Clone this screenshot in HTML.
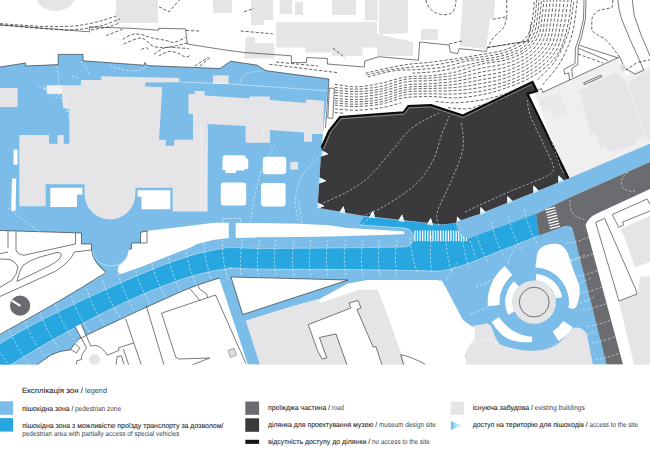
<!DOCTYPE html>
<html lang="uk">
<head>
<meta charset="utf-8">
<title>Експлікація зон / legend</title>
<style>
html,body{margin:0;padding:0;background:#fff;}
body{width:650px;height:467px;overflow:hidden;position:relative;font-family:"Liberation Sans",sans-serif;}
svg{position:absolute;left:0;top:0;display:block;}
.lb{fill:#7bbde8;}
.mb{fill:#27a6df;}
.g{fill:#e5e5e7;}
.vg{fill:#efeff0;}
.w{fill:#fff;}
.site{fill:#3a3a3c;}
.road{fill:#6b6c6f;}
.ln{fill:none;stroke:#222;stroke-width:.6;}
.ds{fill:none;stroke:#222;stroke-width:.7;stroke-dasharray:3.2 1.8;}
.wd{fill:none;stroke:#fff;stroke-width:.6;stroke-dasharray:2.4 1.8;opacity:.9;}
.wl{fill:none;stroke:#fff;stroke-width:.5;}
text{font-family:"Liberation Sans",sans-serif;fill:#3c3c3e;text-rendering:geometricPrecision;}
.uk{font-size:7.2px;fill:#2b2b2d;stroke:#2b2b2d;stroke-width:.1px;}
.en{font-size:7.2px;fill:#444446;}
.t{font-size:7.6px;}
</style>
</head>
<body>
<svg width="650" height="467" viewBox="0 0 650 467">
<rect width="650" height="467" fill="#fff"/>

<!-- ===== top light grey buildings ===== -->
<g class="g" id="topbld">
<ellipse cx="55.5" cy="-9" rx="21.5" ry="20"/>
<rect x="116" y="0" width="42" height="23"/>
<rect x="213" y="0" width="19" height="13"/>
<path d="M251,0H273V20H264V25H251Z"/>
<rect x="295" y="2" width="8" height="13"/>
<rect x="332" y="0" width="24" height="15"/>
<rect x="365" y="0" width="12.6" height="20.5"/>
<path d="M276.2,22H377V47.4H362.4V55.8H332V52.5H305V47.4H276.2Z"/><path d="M377,34L413,42V56H377Z"/>
<path d="M246,37H255V43H274.3V58.4H244.2Z"/>
<path d="M379,0H408V33L379,34.5Z"/><rect x="279.6" y="0" width="12.4" height="14"/>
<path d="M400,0H419V29H417V60H400Z" opacity=".0"/>
<rect x="421" y="29" width="17" height="11"/>
<path d="M463,0H495L494,18L490,19L486,49L459.5,46Z"/>
</g>

<!-- ===== right building cluster ===== -->
<path class="vg" d="M534,93L544,91L618,58L626,75L650,66V143L568,180Z"/>
<g class="g">
<path d="M539,99L560,93L568,115L554,120L549,109L544,111Z" fill="#e9e9ea"/>
<path d="M579,91L616,72L626,82L644,136L635,140L636,144L610,152L605,146L600,148L595,133L591,135Z"/>
<path d="M628,82L650,70V140L645,136Z"/>
</g>

<!-- ===== light blue zones ===== -->
<g class="lb">
<!-- upper plaza + band under the site + right band -->
<path d="M0,67L25.4,63V66L58.2,64.6V54.4H83V60.8L143.8,65.2L145,62.5L147,65.6L200,67.7L220,68.5L230.5,61.3L257,65.1L266,70.7L329,79L323,134L321.5,148L317.5,207.7L361.5,215.4L441.5,224.6L457,223L568.5,178.5L650,143.5V162L568.6,198L536,214L539,235L568.5,225L573,231L607,364.5H460L438,280L368,280L347,284L320,299L290,307L246,320.8L260.2,364.5H247.8L219.4,278.6C219.0,278.3 220.6,277.7 216.8,278.9C213.0,280.1 203.5,283.0 196.8,285.4C190.1,287.8 183.5,290.6 176.8,293.5C170.1,296.4 163.5,299.5 156.8,302.5C150.1,305.5 143.5,308.5 136.8,311.6C130.1,314.7 123.5,317.8 116.8,320.9C110.1,324.0 103.5,327.1 96.8,330.3C90.1,333.5 83.5,336.7 76.8,340.2C70.1,343.7 63.5,347.3 56.8,351.4C50.1,355.5 40.1,362.6 36.8,364.9L0,364.7V334.5C3.3,332.3 13.3,326.9 20.0,323.2C26.7,319.5 33.3,315.8 40.0,312.0C46.7,308.2 53.3,304.3 60.0,300.4C66.7,296.5 73.3,292.5 80.0,288.5C86.7,284.5 95.7,278.8 100.0,276.2C104.3,273.6 104.7,273.3 105.6,272.7Q93,262 91.5,250V244H81.5V233L0,230.5Z"/>
</g>

<!-- white cut-outs inside blue -->
<g class="w">
<!-- wedge W2 -->
<path d="M117.7,271.7L120.3,274.3L144.3,265.7L161.4,258.8L178.5,252L190,247.7L197.1,244.1L214.3,239.8L228.8,238.1V222.7H214.3L180,227L147.7,230.8L140.6,232.3V243H131.4V249L128.8,249A18,18 0 0 1 118.5,265.3Z"/>
<path d="M235.7,238.1L260,237.3L300,237L340,236.2L403.4,234.3L404.8,232.8L403.4,231.3L347.8,227.9L328.5,225.3L300,223.8L260,223H235.7Z"/>
<!-- white area south of strip, middle -->
<path d="M320,299L347,284L368,280L410.5,280.7L415,286.5L418.5,285L415.5,280.7L441.6,280.4L445.4,286.8L463,320L469,324.6L475,328L476,339L469,347L465,356L469,365H405.5L378,289.6H360L320,303Z"/>
<!-- white triangle -->
<path d="M231,277L348,280L242.7,314.5Z"/>
<!-- pavilions -->
<path d="M225,155.2H244Q246,155.5 246.2,158.5L248.2,159V169H244.5V170.5H236V172.9H225.5V170H222.5V158Q222.8,155.4 225,155.2Z"/>
<rect x="262.8" y="156.8" width="23.4" height="17.4" rx="3"/>
<rect x="220.8" y="182.6" width="25.4" height="22.8" rx="3"/>
<rect x="261" y="183" width="24.6" height="23.4" rx="3"/>
</g>

<!-- ===== medium blue strip ===== -->
<g class="mb">
<path d="M0,343.7C3.3,341.8 13.3,335.5 20.0,331.7C26.7,327.9 33.3,324.4 40.0,320.9C46.7,317.4 53.3,314.1 60.0,310.8C66.7,307.5 73.3,304.4 80.0,301.3C86.7,298.2 93.3,295.1 100.0,292.1C106.7,289.1 113.3,286.1 120.0,283.1C126.7,280.2 133.3,277.2 140.0,274.4C146.7,271.6 153.3,268.9 160.0,266.3C166.7,263.7 173.3,261.2 180.0,259.0C186.7,256.8 193.3,254.7 200.0,253.0C206.7,251.3 214.8,249.8 220.0,248.9C225.2,248.0 224.7,247.7 231.4,247.6C238.1,247.5 243.6,248.3 260.0,248.4C276.4,248.5 305.8,248.2 330.0,248.0C354.2,247.8 392.6,247.2 405.1,247.0A9.5,9.5 0 0 0 405.1,228.1L358.8,224.7L364,216.8L441.5,225L456,223.4L458,229L462.8,234.8L468.5,238.5L536,214L539,235.4C528.0,239.8 488.9,255.7 473.0,261.5C457.1,267.3 453.0,268.9 443.4,270.4C433.8,271.9 430.8,270.6 415.4,270.5C400.0,270.4 376.9,269.8 351.0,269.5C325.1,269.2 279.9,269.3 260.0,269.0C240.1,268.7 236.3,268.1 231.4,267.9C226.5,267.7 233.8,267.4 230.3,268.0C226.8,268.6 217.0,270.1 210.3,271.5C203.6,272.9 197.0,274.7 190.3,276.6C183.6,278.6 177.0,280.8 170.3,283.2C163.6,285.6 157.0,288.2 150.3,291.0C143.6,293.8 137.0,296.7 130.3,299.7C123.6,302.7 117.0,305.9 110.3,309.2C103.6,312.5 97.0,315.8 90.3,319.3C83.6,322.8 77.0,326.4 70.3,330.0C63.6,333.6 57.0,337.3 50.3,341.1C43.6,344.9 37.0,348.8 30.3,352.8C23.6,356.8 13.6,363.1 10.3,365.1L0,364.7Z"/>

</g>

<!-- ===== grey buildings inside blue ===== -->
<g class="g">
<rect x="0" y="88" width="17.6" height="19"/>
<rect x="213" y="75.4" width="15.6" height="8.6"/>
<rect x="290.4" y="162" width="7.6" height="7.6"/>
<!-- main building + wing -->
<path d="M80.9,80H101.8L100.5,76.3L179.2,78V82.2L145.4,82.6V86.5L162.3,87.3L159,139.7H165.8V145.8H174.3V139.7H193V114H188.5V94H194.7V91H204.6V95.5L249.6,98.6V96.4H270V100L305.8,103V99.5L324,100.7L323,134H312V141.8H304V132.5L270,130V142.7H245.6V126L207.6,124V211.4H172.6V187.7H135.4V194A25.4,25.4 0 0 1 84.6,194V184.3H45.7V206.3H19.3V135H49V143.7H57.5V135H63.7V143.7H69.4L69.2,109L63,108L62,93.7H46.8V85.3H80.9Z"/>
<!-- bottom middle building -->
<path d="M246,320.8L290,307L318,299L320,303L360,289.6H378L405.5,365H260.2Z"/>
<!-- bottom right building -->
<path d="M466,365V352.5L470.4,344Q476,338 475.7,334.3Q475,329 472.5,325.7L487.5,323.6Q491,325 491.8,327.4L495,336.4L499.3,344Q505,347 513.4,348.4Q524,351 534.2,350.7Q545,350 553.9,346.4Q563,341 568.4,331.9L571.2,329Q576,326.5 580,328Q585,330 587,334.8L593,365Z"/>
</g>
<!-- courtyards in main building -->
<g class="w">
<path d="M50.3,187.7H82.4V194.6H77V207H50.3Z"/>
<path d="M137.6,190.3H170.3V209.2H141.4V196.7H137.6Z"/>
<rect x="13.5" y="149.6" width="4" height="15"/>
<path d="M12,178.5H16.2L15.6,210.7H11.2Z"/>
<path d="M308.3,324.6L350.8,308L349,303L358,300.5L361,308L357,309.5L373,346.8H376L382,365H347L336,333.9L319.4,337.5L326.8,357.9L322,359L317.5,350.5Z"/>
</g>
<path class="g" d="M319.4,337.5L336,333.9L347,365H329Z"/>

<!-- ===== museum site ===== -->
<path class="site" d="M321.5,147.7L329,131L340,117L403.5,112.3L408.3,106L431,105.2L463,115.6L532.5,82L537,91L527.5,93.8L568.5,178.5L457,223L441.5,224.6L361.5,215.4L317.5,207.7Z"/>
<path d="M321.5,147.7L329,131L340,117L403.5,112.3L408.3,106L431,105.2L463,115.6L532.5,82L537,91L527.5,93.8L568.5,178.5" fill="none" stroke="#0c0c0c" stroke-width="2.2" stroke-linejoin="miter"/>

<path d="M323.8,149L330.6,132.2L341,118.8L404.2,114.2L409,107.8L430.8,107L463,117.4L531.6,84.3" fill="none" stroke="#fff" stroke-width=".45" opacity=".85"/>
<path class="wd" d="M323.5,202.9C327.7,200.9 341.2,195.4 349.0,190.9C356.7,186.4 362.9,182.4 369.9,175.9C376.9,169.4 383.9,159.9 390.9,151.9C397.9,143.9 403.9,134.5 411.9,128.0C419.9,121.5 434.3,115.5 438.8,113.0M365.4,214.9C368.7,213.4 376.7,210.9 384.9,205.9C393.1,200.9 406.9,192.4 414.9,184.9C422.9,177.4 428.4,169.4 432.8,160.9C437.3,152.4 439.1,141.4 441.8,134.0C444.6,126.5 448.1,119.0 449.3,116.0M438.8,225.3C438.6,223.1 435.3,219.1 437.3,211.9C439.3,204.6 446.6,192.4 450.8,181.9C455.1,171.4 461.1,158.9 462.8,148.9C464.6,138.9 461.6,126.5 461.3,122.0M465.0,212.0C467.6,210.8 473.1,208.1 480.8,204.6C488.6,201.1 500.8,195.4 511.5,190.8C522.2,186.2 538.2,180.1 545.0,177.0C551.8,173.9 550.7,174.0 552.0,172.0C553.3,170.0 554.6,170.1 553.0,165.0C551.4,159.9 546.1,149.8 542.3,141.5C538.5,133.2 532.5,121.9 530.0,115.0C527.5,108.1 527.9,102.5 527.5,100.0M540.0,112.0C542.4,118.3 551.1,140.7 554.6,150.0C558.1,159.3 559.3,164.0 561.0,168.0C562.7,172.0 564.3,173.0 565.0,174.0"/>
<path d="M345.6,213.7L343.5,206.2L339.1,212.6ZM375.4,218.2L373.0,210.8L368.9,217.4ZM404.5,221.9L402.1,214.5L398.0,221.1ZM433.2,225.4L430.8,218.0L426.7,224.6ZM462.7,221.9L457.0,216.6L456.6,224.4ZM486.2,212.4L480.5,207.1L480.1,214.9ZM513.2,201.4L507.5,196.1L507.1,203.9ZM539.2,190.9L533.5,185.6L533.1,193.4ZM564.2,180.7L558.5,175.4L558.1,183.2ZM321.0,156.7L328.3,153.9L321.4,150.1ZM318.9,183.7L326.2,180.9L319.3,177.1ZM317.1,208.8L324.4,206.0L317.5,202.2Z" fill="#c9ecf6"/><path d="M344.9,211.3L343.5,206.2L340.5,210.6ZM374.6,215.8L373.0,210.8L370.2,215.3ZM403.7,219.5L402.1,214.5L399.3,219.0ZM432.4,223.0L430.8,218.0L428.0,222.5ZM460.9,220.2L457.0,216.6L456.8,221.9ZM484.4,210.7L480.5,207.1L480.3,212.4ZM511.4,199.7L507.5,196.1L507.3,201.4ZM537.4,189.2L533.5,185.6L533.3,190.9ZM562.4,179.0L558.5,175.4L558.3,180.7ZM323.3,155.8L328.3,153.9L323.6,151.3ZM321.2,182.8L326.2,180.9L321.5,178.3ZM319.4,207.9L324.4,206.0L319.7,203.4Z" fill="#fff"/>
<!-- strip details -->
<path class="wl" d="M0.0,343.8C3.3,341.8 13.3,335.5 20.0,331.7C26.7,327.9 33.3,324.4 40.0,320.9C46.7,317.4 53.3,314.1 60.0,310.8C66.7,307.5 73.3,304.4 80.0,301.3C86.7,298.2 93.3,295.1 100.0,292.1C106.7,289.1 113.3,286.1 120.0,283.1C126.7,280.2 133.3,277.2 140.0,274.4C146.7,271.6 153.3,268.9 160.0,266.3C166.7,263.7 173.3,261.2 180.0,259.0C186.7,256.8 193.3,254.7 200.0,253.0C206.7,251.3 214.8,249.8 220.0,248.9C225.2,248.0 224.7,247.7 231.4,247.6C238.1,247.5 243.6,248.3 260.0,248.4C276.4,248.5 305.8,248.2 330.0,248.0C354.2,247.8 392.6,247.2 405.1,247.0M10.3,365.1C13.6,363.1 23.6,356.8 30.3,352.8C37.0,348.8 43.6,344.9 50.3,341.1C57.0,337.3 63.6,333.6 70.3,330.0C77.0,326.4 83.6,322.8 90.3,319.3C97.0,315.8 103.6,312.5 110.3,309.2C117.0,305.9 123.6,302.7 130.3,299.7C137.0,296.7 143.6,293.8 150.3,291.0C157.0,288.2 163.6,285.6 170.3,283.2C177.0,280.8 183.6,278.6 190.3,276.6C197.0,274.7 203.6,272.9 210.3,271.5C217.0,270.1 226.8,268.6 230.3,268.0C233.8,267.4 226.5,267.7 231.4,267.9C236.3,268.1 240.1,268.7 260.0,269.0C279.9,269.3 325.1,269.2 351.0,269.5C376.9,269.8 400.0,270.4 415.4,270.5C430.8,270.6 433.8,271.9 443.4,270.4C453.0,268.9 457.1,267.3 473.0,261.5C488.9,255.7 528.0,239.8 539.0,235.4" opacity=".8"/>
<path class="wd" d="M-5.9,339.0Q1.3,356.8 15.5,374.0M9.3,329.7Q16.3,347.7 30.3,364.9M24.7,320.8Q31.2,339.0 44.8,356.6M40.0,312.4Q46.2,330.6 59.5,348.5M55.3,304.3Q61.2,322.7 74.1,340.8M71.5,296.1Q77.1,314.5 89.9,332.7M86.7,288.6Q92.1,307.1 104.6,325.5M102.9,280.8Q108.1,299.4 120.3,317.9M118.1,273.8Q123.1,292.4 135.1,311.1M134.6,266.6Q139.1,285.3 150.6,304.4M151.1,259.9Q155.0,278.7 166.0,298.0M167.7,253.6Q171.0,272.6 181.2,292.4M185.7,247.8Q187.9,267.0 197.2,287.2M203.9,243.2Q204.9,262.4 212.8,283.2M222.3,239.8Q221.8,259.1 228.1,280.4M242.6,239.1Q238.8,258.0 241.4,277.1M259.4,239.7Q255.8,258.6 258.6,277.7M276.0,239.7Q272.8,258.7 276.0,277.7M294.0,239.7Q290.8,258.7 294.0,277.7M311.0,239.7Q307.8,258.7 311.0,277.7M328.0,239.7Q324.8,258.7 328.0,277.7M345.9,239.6Q342.8,258.6 346.1,277.6M363.0,239.6Q359.8,258.6 363.0,277.6M380.0,239.6Q376.8,258.6 380.0,277.6M397.0,239.7Q393.8,258.7 397.0,277.7M409.9,237.0Q410.9,256.3 418.1,274.1M431.7,236.0Q428.8,255.0 432.3,274.0M445.9,235.1Q445.8,254.4 452.1,272.6M462.3,232.4Q462.9,251.7 469.7,269.7M475.3,228.0Q479.0,246.9 488.7,263.5M491.3,221.9Q495.0,240.8 504.7,257.5M508.3,215.5Q512.0,234.4 521.7,251.0M524.3,209.4Q528.0,228.3 537.7,245.0"/>
<!-- ===== road ===== -->
<path class="road" d="M536,214L568.6,198L650,162V189L597,213.5Q588,217.5 585.5,225L623,364.5H606.6L573,231Q571,225 565,226L539,235.4Z"/>
<!-- crosswalk on road -->
<g stroke="#fff" stroke-width="1.2">
<path d="M545.40,209.90l9.8,-2.6M546.06,212.58l9.8,-2.6M546.72,215.26l9.8,-2.6M547.38,217.94l9.8,-2.6M548.04,220.62l9.8,-2.6M548.70,223.30l9.8,-2.6M549.36,225.98l9.8,-2.6M550.02,228.66l9.8,-2.6"/>
</g>
<!-- crosswalk on strip -->
<g stroke="#fff" stroke-width="1.25">
<path d="M414.90,230.6v10.6M417.48,230.6v10.6M420.06,230.6v10.6M422.64,230.6v10.6M425.22,230.6v10.6M427.80,230.6v10.6M430.38,230.6v10.6M432.96,230.6v10.6M435.54,230.6v10.6M438.12,230.6v10.6M440.70,230.6v10.6M443.28,230.6v10.6M445.86,230.6v10.6M448.44,230.6v10.6M451.02,230.6v10.6M453.60,230.6v10.6M456.18,230.6v10.6M458.76,230.6v10.6M461.34,230.6v10.6M463.92,230.6v10.6M466.50,230.6v10.6"/>
</g>
<path class="lb" d="M455.5,222L457.5,229Q460,234 464,236.5L468.5,238.5L482,233.5L476,215Z"/>
<path class="wl" d="M358.8,224.7L405.1,228.1A9.5,9.5 0 0 1 405.1,247" opacity=".8"/>

<!-- ===== circle plaza ===== -->
<g>
<g class="w">
<path d="M508.1,314.8A29,29 0 0 1 514.1,281.2L519.1,286.5A21.7,21.7 0 0 0 514.7,311.6Z"/>
<path d="M536.2,273.9A28.3,28.3 0 0 1 562.1,297.2L555.6,298.3A21.7,21.7 0 0 0 535.7,280.5Z"/>
<path d="M487.9,306.2A46.5,46.5 0 0 1 504.9,266.0L512.4,275.1A34.7,34.7 0 0 0 499.6,305.1Z"/>
<path d="M572.8,327.2A46,46 0 0 1 558.6,341.1L552.6,331.5A34.7,34.7 0 0 0 563.3,321.0Z"/>
<path d="M532.4,336.8L532.1,342Q512,344 501.7,334.6Q495,328 491.6,322L498.8,317.1Q505,326 513.8,331.2Q522,336 532.4,336.8Z"/>
<path d="M535.4,267.4L537,255Q538,248 545,245.5Q553,242.5 561,245Q567,249 569.5,258L573,269L579.3,285.6Q581,297 576,307L573.6,309L568.4,308.1A34.7,34.7 0 0 0 535.4,267.4Z"/>
</g>
<circle cx="534.2" cy="302.1" r="21.7" class="g"/>
<circle cx="534.2" cy="302.1" r="14.9" fill="none" stroke="#222" stroke-width=".6"/>
</g>

<!-- north arrow -->
<circle cx="20.1" cy="305.7" r="10.1" fill="#6a6b6e"/>
<path d="M20.4,305.9L12,300.6" stroke="#fff" stroke-width="2.2" fill="none"/>

<!-- ===== thin lines (top area) ===== -->
<g id="toplines">
<path class="ds" d="M365.5,73.2C368.2,72.6 374.8,71.0 381.5,69.5C388.3,68.1 397.9,65.8 406.2,64.6C414.4,63.4 422.2,63.2 430.8,62.2C439.4,61.1 449.6,59.7 457.8,58.5C466.1,57.2 472.3,56.1 480.1,54.7C487.8,53.3 497.2,52.3 504.2,50.1C511.2,47.8 517.9,44.3 522.2,41.1C526.5,37.9 528.1,35.1 529.9,30.8C531.7,26.5 532.2,20.5 533.0,15.4C533.7,10.3 534.2,2.6 534.5,0.0M366.8,75.1C370.3,74.3 380.1,71.5 387.7,70.2C395.3,68.8 404.1,68.0 412.3,67.1C420.5,66.2 428.5,65.8 436.9,64.6C445.3,63.4 455.6,60.9 462.8,59.7C470.0,58.4 473.2,58.3 480.1,57.1C487.0,56.0 497.0,54.9 504.2,52.6C511.4,50.4 518.8,47.2 523.5,43.7C528.1,40.1 530.2,36.2 532.2,31.5C534.2,26.8 534.5,20.7 535.3,15.4C536.0,10.2 536.5,2.6 536.7,0.0M368.0,76.9C372.3,75.9 385.4,72.0 393.8,70.8C402.3,69.5 410.3,70.2 418.5,69.5C426.7,68.9 434.9,68.5 443.1,67.1C451.3,65.6 461.5,62.2 467.7,60.9C473.9,59.7 474.0,60.5 480.1,59.6C486.1,58.6 496.8,57.4 504.2,55.2C511.6,53.0 519.7,50.1 524.7,46.2C529.8,42.4 532.4,37.2 534.5,32.1C536.6,27.0 536.9,20.8 537.6,15.4C538.3,10.1 538.7,2.6 538.9,0.0M412.3,73.2C416.4,72.9 428.7,72.5 436.9,71.4C445.1,70.3 454.3,68.0 461.5,66.5C468.7,64.9 472.7,63.5 480.1,62.0C487.4,60.5 497.8,59.7 505.5,57.4C513.1,55.1 520.8,52.2 526.0,48.2C531.2,44.1 534.4,38.8 536.7,33.4C539.0,27.9 539.1,21.0 539.9,15.4C540.7,9.8 541.2,2.6 541.4,0.0M334.8,84.3C338.5,84.7 349.1,87.0 356.9,86.8C364.7,86.6 373.3,84.7 381.5,83.1C389.7,81.4 397.9,78.2 406.2,76.9C414.4,75.7 422.6,76.5 430.8,75.7C439.0,74.9 447.2,73.9 455.4,72.0C463.6,70.1 471.5,66.5 480.1,64.5C488.6,62.4 498.9,62.0 506.8,59.6C514.6,57.2 522.0,54.2 527.3,50.1C532.7,45.9 536.4,40.4 538.9,34.7C541.4,28.9 541.4,21.2 542.2,15.4C543.1,9.6 543.7,2.6 544.0,0.0M334.8,87.4C338.5,87.7 349.1,89.3 356.9,89.1C364.7,88.9 373.3,87.8 381.5,86.2C389.7,84.5 397.9,80.6 406.2,79.2C414.4,77.9 422.6,78.7 430.8,78.0C439.0,77.3 447.2,76.7 455.4,75.1C463.6,73.5 471.5,70.4 480.1,68.5C488.6,66.5 498.6,65.9 506.8,63.3C514.9,60.7 523.2,57.2 528.9,52.8C534.7,48.4 538.6,43.0 541.3,37.1C543.9,31.1 543.9,23.2 544.9,17.0C545.9,10.8 546.8,2.8 547.2,0.0M334.8,90.2C338.5,90.4 349.1,91.7 356.9,91.5C364.7,91.3 373.3,90.5 381.5,88.9C389.7,87.3 397.9,83.2 406.2,81.8C414.4,80.5 422.6,81.2 430.8,80.6C439.0,80.0 447.2,79.5 455.4,78.2C463.6,76.8 471.5,74.3 480.1,72.4C488.6,70.6 498.4,69.7 506.8,67.0C515.1,64.2 524.1,60.3 530.2,55.7C536.4,51.1 540.7,45.7 543.7,39.5C546.6,33.2 546.7,24.9 547.9,18.3C549.0,11.7 550.0,3.0 550.4,0.0M334.8,92.5C338.5,92.7 349.1,94.3 356.9,94.1C364.7,93.9 373.3,92.8 381.5,91.2C389.7,89.7 397.9,86.2 406.2,84.9C414.4,83.7 422.6,84.3 430.8,83.7C439.0,83.1 447.2,82.5 455.4,81.2C463.6,80.0 471.5,78.0 480.1,76.3C488.6,74.5 498.3,73.5 506.8,70.7C515.3,67.8 524.5,63.7 531.0,58.9C537.6,54.1 542.7,48.5 546.1,41.9C549.4,35.3 549.8,26.1 551.1,19.1C552.3,12.1 553.2,3.2 553.6,0.0M334.8,95.4C338.5,95.6 349.1,97.1 356.9,96.9C364.7,96.6 373.3,95.5 381.5,93.9C389.7,92.3 397.9,88.7 406.2,87.4C414.4,86.1 422.6,86.7 430.8,86.2C439.0,85.6 447.2,85.3 455.4,84.3C463.6,83.3 471.5,81.7 480.1,80.0C488.6,78.3 498.1,77.2 506.8,74.2C515.4,71.2 524.9,67.1 531.8,62.1C538.8,57.2 544.8,51.2 548.5,44.3C552.2,37.4 552.9,27.9 554.3,20.5C555.7,13.2 556.4,3.4 556.8,0.0M334.8,98.3C338.5,98.5 349.1,99.8 356.9,99.5C364.7,99.3 373.3,98.3 381.5,96.6C389.7,95.0 397.9,91.0 406.2,89.7C414.4,88.3 422.6,88.9 430.8,88.5C439.0,88.1 447.2,88.2 455.4,87.4C463.6,86.6 471.5,85.3 480.1,83.7C488.6,82.1 498.0,80.8 506.8,77.7C515.5,74.7 525.3,70.5 532.6,65.4C540.0,60.2 546.8,53.9 550.9,46.7C555.1,39.5 555.9,29.9 557.5,22.1C559.0,14.4 559.8,3.7 560.2,0.0M334.8,100.6C338.5,100.8 349.1,102.1 356.9,101.8C364.7,101.6 373.3,100.9 381.5,99.3C389.7,97.6 397.9,93.4 406.2,92.0C414.4,90.6 422.6,91.4 430.8,91.1C439.0,90.9 447.2,91.1 455.4,90.5C463.6,89.9 471.5,89.1 480.1,87.6C488.6,86.0 497.9,84.4 506.8,81.3C515.7,78.1 525.7,73.9 533.4,68.6C541.2,63.2 548.8,56.6 553.3,49.1C557.9,41.6 558.9,31.9 560.7,23.8C562.5,15.6 563.6,4.0 564.2,0.0M334.8,102.9C338.5,103.1 349.1,104.4 356.9,104.2C364.7,103.9 373.5,103.3 381.5,101.7C389.6,100.1 397.0,96.1 405.2,94.8C413.4,93.5 422.4,94.0 430.8,93.8C439.1,93.7 447.2,94.4 455.4,94.0C463.6,93.6 471.7,92.8 480.1,91.3C488.5,89.8 496.9,88.1 505.8,84.9C514.8,81.7 525.5,77.5 533.7,72.1C542.0,66.6 550.2,59.7 555.2,52.0C560.3,44.3 561.8,34.5 563.9,25.8C566.0,17.2 567.3,4.3 568.0,0.0M334.8,105.2C338.5,105.4 349.1,106.7 356.9,106.5C364.7,106.3 373.7,105.4 381.5,104.0C389.3,102.6 395.5,99.1 403.7,97.8C411.9,96.6 422.2,96.6 430.8,96.6C439.4,96.6 447.2,98.1 455.4,97.8C463.6,97.6 471.9,96.6 480.1,95.0C488.2,93.5 495.3,91.8 504.2,88.6C513.1,85.4 525.0,81.3 533.7,75.8C542.5,70.2 551.3,63.1 556.8,55.2C562.4,47.3 564.7,37.5 567.1,28.2C569.6,19.0 570.8,4.7 571.5,0.0M334.8,108.9C338.5,109.1 349.1,110.4 356.9,110.2C364.7,109.9 374.2,108.9 381.5,107.7C388.9,106.5 397.9,103.6 401.2,102.8M435.7,101.5C439.0,101.7 448.0,103.0 455.4,102.8C462.8,102.6 472.3,101.6 480.0,100.3C487.7,99.0 494.2,97.4 501.6,95.0C509.1,92.6 520.9,87.5 524.7,86.0M334.8,112.6C336.4,112.7 343.0,113.2 344.6,113.4M448.0,107.7C451.3,107.9 462.4,109.3 467.7,108.9C473.0,108.5 476.1,106.3 480.0,105.2C483.9,104.2 486.9,103.8 491.4,102.7C495.8,101.7 504.2,99.5 506.8,98.9M542.7,84.7C545.7,80.9 555.8,70.2 560.7,61.6C565.6,53.1 569.5,43.7 572.3,33.4C575.0,23.1 576.5,5.6 577.4,0.0M537.6,79.6C540.6,76.4 550.4,68.3 555.6,60.3C560.7,52.4 565.3,42.2 568.4,32.1C571.5,22.0 573.1,5.4 574.1,0.0"/>
<path class="ln" d="M0,24.8L89.3,31.8V26.8L131,28.3L158.7,30.2V28.3L185.5,28.9L187.3,44L220,49.2L244,52.5L291.4,55.8V62.6H306.6V57.5L327.4,58.5V64L364.3,67L364.8,61L379,56.7L418.5,60.2L419.7,42L449,45L450.5,52.3L457.8,53.5L459,48.6L486.2,51.4L487.5,47.5"/>
<path class="ds" d="M0,23.6L40,26.4L70,26.4Q90,24.4 104,20L116,16M91,30L108,27L120,23"/>
<path class="ds" d="M0,25L40,28.4L66,30Q88,29.5 104,25L120,19"/>
<path class="ds" d="M122.7,39.4C124.2,38.6 128.9,35.2 132.0,34.4C135.1,33.6 138.1,33.9 141.2,34.4C144.3,34.9 146.4,36.5 150.4,37.5C154.4,38.5 161.2,39.5 165.2,40.3C169.2,41.1 171.0,42.7 174.4,42.2C177.8,41.7 183.7,38.3 185.5,37.5M123.6,44.0C125.9,43.1 134.0,39.3 137.5,38.5C141.0,37.7 142.4,38.2 144.8,39.4C147.2,40.6 149.1,44.4 152.2,45.8C155.3,47.2 159.3,47.7 163.3,47.7C167.3,47.7 172.2,46.6 176.2,45.8C180.2,45.0 185.5,43.5 187.3,43.0M141.2,49.5C142.1,49.2 145.4,47.4 146.7,47.7C148.0,48.0 148.6,50.9 149.0,51.5M154.0,54.2C155.9,53.1 161.5,48.8 165.2,47.7C168.9,46.6 172.2,47.6 176.2,47.7C180.2,47.9 187.0,48.5 189.2,48.6M158.7,56.0C160.4,55.2 165.6,51.9 168.8,51.4C172.0,50.9 175.2,52.3 178.0,53.2C180.8,54.1 183.3,56.7 185.5,57.0C187.7,57.3 190.1,55.3 191.0,55.0M106.0,35.7C108.8,34.6 119.9,30.3 122.7,29.2"/>
<path class="ds" d="M159,6.8L169,11.8L179.4,0M186,30.5L199.7,31M194.6,66L208,57.5M200,66L210,57.5M240.6,31L272.8,33.8M244,11.8L254,8.5M269.4,64.3L338.7,72.8M276,62L318,66M333,48L345,58M487.5,47.5L528.6,41L531,22M492.6,19.3L506.8,16.7L504.2,27L492.6,38.5L487.5,47.5M506.8,0V16.7M426,0Q427,8 436,13Q446,17 453,12Q456,6 456,0M449,44L462,41"/>
<path class="ln" d="M487.5,47.5L528.6,41" stroke-dasharray="3 1"/>
<!-- path / road outlines top right -->
<path class="ln" d="M584,0L583.5,19.3L579.3,36.6L575.4,48.2L575,63.6L563.9,69.4L564.8,74.2L568.7,72.8L569.6,80L542.7,92.4L541.4,88.6L537.6,90M586,0L585.4,19.3L581.6,36.6L578.3,46.3L577.7,64.6L571.6,68.4L572.5,77M569.6,80L619.7,56.9L623.6,65.5L626.5,69.4L635.2,74.2L643.8,70.3M579.3,45.3L617.8,57.8M578.3,48.2L608.2,60.7M617.8,0Q618.5,10 621.7,19.3L631.3,42.4L641,63.6L643.8,70.3M632.3,0L634.2,15.4L641,34.7L650,55.9"/>
<path class="ds" d="M613,0L612,7.7Q604,9 598.5,10.6Q593,14 591.8,19.3V30.8Q597,35 604.3,38.5Q611,45 615.9,52L619.7,56.9M625.5,70.3L637,62.6L650,59.7M578,54L603,63"/>
<path class="ln" d="M584.4,84.6L601.8,76.9L601,75.2L583.6,82.9Z"/>
<rect x="620.7" y="64.6" width="4.8" height="5.7" fill="#d9d9db" transform="rotate(-25 623 67.5)"/>
</g>

<!-- ===== outlines bottom-left ===== -->
<g id="bl">
<path class="w" d="M75.1,326.8L81.1,324L90.8,346L86.5,347.8Z"/>
<path class="ln" d="M0,230.5L81.5,233V244H91.5V250Q93,262 105.6,271.8M75.5,233V244L24,255.2M8,231V248M16,231.5V250Q17,254.5 24,255.2M0,253.8L8,252M74.4,252L91.5,250M74.4,252Q70,262 55,271.5L0,296.5"/>
<path class="ln" d="M17,281.4Q19,271 23,265.3Q30,260 40,257L56.3,252.6Q61,252 61.4,255.2Q60,260 50.3,265.3L30,275.3Z"/>
<path class="ln" d="M0,259L10,259.5Q16,262 18,267Q17,275 12,280L0,287.4"/>
<path class="ln" d="M0,334.5C3.3,332.3 13.3,326.9 20.0,323.2C26.7,319.5 33.3,315.8 40.0,312.0C46.7,308.2 53.3,304.3 60.0,300.4C66.7,296.5 73.3,292.5 80.0,288.5C86.7,284.5 95.7,278.8 100.0,276.2C104.3,273.6 104.7,273.3 105.6,272.7"/>
<path class="ln" d="M219.4,278.6C219.0,278.3 220.6,277.7 216.8,278.9C213.0,280.1 203.5,283.0 196.8,285.4C190.1,287.8 183.5,290.6 176.8,293.5C170.1,296.4 163.5,299.5 156.8,302.5C150.1,305.5 143.5,308.5 136.8,311.6C130.1,314.7 123.5,317.8 116.8,320.9C110.1,324.0 103.5,327.1 96.8,330.3C90.1,333.5 83.5,336.7 76.8,340.2C70.1,343.7 63.5,347.3 56.8,351.4C50.1,355.5 40.1,362.6 36.8,364.9"/>
<path class="wl" d="M92.6,250A18,15.7 0 0 0 128.8,250" opacity=".85"/>
<path class="ln" d="M75.1,326.8L86.5,347.8M81.1,324L90.8,346"/><path class="lb" d="M52,354.5L60,351.5L70.5,349.7L74.8,343.5L78.5,341.5L76.5,337.5L60,346L51,351.5Z"/>
<path class="ln" d="M52,354.5L60,351.5L70.5,349.7"/>
<path class="ln" d="M70.5,349.7L74.8,343.5L79.7,347.8L76.6,352.8Z" fill="#fff"/>
<circle cx="94.5" cy="359.5" r="5.5" class="g"/>
<path class="ln" d="M86.5,347.8L82.8,353.4Q81,356 81.5,359.5L76.6,360.8V364.7M90.8,346L95.7,345.4Q99,346 101.8,348.5Q105.5,351.5 107.4,355.2L119,350.3L118.5,347.8L133.8,342.9M123.4,349L129,365.7M117.2,356.5L121.5,355.8L124,364.7M117.2,356.5L116,364.7M125.6,318.5L133.8,342.9L141.3,364.7"/>
<path class="ln" d="M146.2,305.6L164.6,367M161.5,313.2L215.5,295L246,363.7M161.5,313.2L175.7,357L178.8,359L209.6,358L192,365M189.9,288.6L200.2,300.8M198.2,285.5L199.6,289L206.5,293.9L207.9,297.7"/>
<rect x="229" y="349.2" width="6.5" height="7.4" fill="#dcdcde" stroke="#555" stroke-width=".4" transform="rotate(-18 232 353)"/>
<!-- white triangle outline -->
<path class="ln" d="M231,277L348,280L242.7,314.5Z"/>
<path class="wl" d="M228.8,223.2H222.8V218.4H240.8V223.2H235.7" opacity=".85"/>
<!-- W2 notch outline -->
<path class="ln" d="M128.8,249.5L131.4,249V243H140.6V232.3L147.7,230.8M140.6,243H147V231"/>
</g>
<!-- ===== right side outlines ===== -->
<g id="rs">
<path class="g" d="M620,229L650,216V262L635,267.4L624,236Z"/>
<path class="g" d="M618.8,301.5L638,293.8L640,276.5H650V365H634.2Z"/>
<path class="ln" d="M612.3,214.5L647,199L650,204.3M612.3,214.5L618.7,227.4L623.8,224.8L622.5,222L650,211M595.6,222.3L604.6,218.4L636,290L637,294L619,301Z"/>
</g>
<!-- ===== white dashes / details in plaza ===== -->
<g id="wdet">
<rect x="46.8" y="85.6" width="15.2" height="8.1" fill="#f1f1f3"/>
<path class="wd" d="M39,86.5L47,90L52,97M43,86L50,89L57,98M48,86L60,96L64,105M53,86L63,95L67,112M58,87L66,100L69,119M44,88L56,93"/>
<path class="wd" d="M56,66.3Q58.5,74 59,82L57,86M81.4,61.2Q86,68 90.5,75.4M72,75.5L80,78.5M110,65.5Q120,69.5 130,71Q140,71.5 148,66"/>
<path class="wd" d="M240.4,81.6Q243,74 250.2,72.3L262.6,70.8"/>
<path class="wl" d="M178.8,82L229.3,83.8L329,91" opacity=".9"/>
<path class="wd" d="M262.6,129.4L264,141.8M275,145Q262,165 259.5,177.3Q255,192 253.3,204L250,222M318,158.8Q305,168 299.6,180.4Q296,192 295,204L298.5,222M8,208L44,236M371,216.8L360,226M302,222.4L298.5,200"/>
<path class="wl" d="M201.4,124V211M207.6,130L205.5,211" opacity=".8"/>
<path class="wd" d="M470,240.8Q473,250 475.8,258M516.3,246.6Q510,255 507.6,264M470,314.5L487.4,307.3M571.2,261L585,255M577,284L591,278M580,303L594,297M552.4,346.4Q562,339 568.4,329M476,287Q490,282 500,275M447,279Q452,270 458,262M587,335L596,331"/>
<path class="wd" d="M566.3,243.5Q579.3,241.5 592.3,236.0M570.5,260.1Q583.5,258.1 596.5,252.6M574.7,276.7Q587.7,274.7 600.7,269.2M579.0,293.3Q592.0,291.3 605.0,285.8M583.2,309.9Q596.2,307.9 609.2,302.4M587.4,326.5Q600.4,324.5 613.4,319.0M591.7,343.1Q604.7,341.1 617.7,335.6M595.9,359.7Q608.9,357.7 621.9,352.2"/>
<path class="wd" d="M628,172Q618,180 623,188Q628,192 635,191M570,200Q569,213 577,217L585,220"/>
</g>
<!-- courtyard outline bottom building -->
<path class="ln" d="M308.3,324.6L350.8,308L349,303L358,300.5L361,308L357,309.5L373,346.8H376L382,365M347,365L336,333.9L319.4,337.5L326.8,357.9L322,359L317.5,350.5L308.3,324.6"/>
<path class="ln" d="M400.7,354.6Q412,357 425.4,364.3M400.7,354.6L403.5,365"/>
<path class="wl" d="M470.4,344L487.5,339L499.3,344" opacity=".8"/>
<path class="ln" d="M0,67L25.4,63V66L58.2,64.6V54.4H83V60.8L143.8,65.2L145,62.5L147,65.6L200,67.7L220,68.5L230.5,61.3L257,65.1L266,70.7L329,79L325.5,128"/>
<path class="ln" d="M329.3,88L334.3,88.4L332.8,118.4L327.8,118Z" fill="#fff"/>
<rect id="botclip" x="0" y="364.7" width="650" height="16" fill="#fff"/>
<!-- ===== legend ===== -->
<defs><linearGradient id="ag" x1="0" x2="1" y1="0" y2="0"><stop offset="0" stop-color="#55bce6"/><stop offset=".75" stop-color="#e8f6fc"/><stop offset="1" stop-color="#fff"/></linearGradient></defs>
<rect x="0" y="401.3" width="13.1" height="13.5" fill="#7bbde8"/>
<rect x="0" y="418.1" width="13.1" height="13.5" fill="#27a6df"/>
<rect x="245.3" y="401.5" width="13.8" height="13.3" fill="#6b6c6f"/>
<rect x="245.3" y="418.3" width="13.8" height="13.5" fill="#3a3a3c"/>
<rect x="245.3" y="439.8" width="13.8" height="4.1" fill="#1a1718"/>
<rect x="450.6" y="401.5" width="13.6" height="13.3" fill="#e5e5e7"/>
<path d="M451.2,421.4L459.8,425.5L451.2,429.6Z" fill="url(#ag)" stroke="#6cc7ea" stroke-width=".6" stroke-linejoin="round"/>

<text x="22" y="393" textLength="61.0" lengthAdjust="spacingAndGlyphs" class="uk t">Експлікація зон /</text>
<text x="85" y="393" textLength="22.0" lengthAdjust="spacingAndGlyphs" class="en t">legend</text>
<text x="22.2" y="410.6" textLength="51.1" lengthAdjust="spacingAndGlyphs" class="uk">пішохідна зона /</text>
<text x="75" y="410.6" textLength="46.0" lengthAdjust="spacingAndGlyphs" class="en">pedestrian zone</text>
<text x="22.2" y="428.2" textLength="201.2" lengthAdjust="spacingAndGlyphs" class="uk">пішохідна зона з можливістю проїзду транспорту за дозволом/</text>
<text x="22.2" y="435.8" textLength="157.0" lengthAdjust="spacingAndGlyphs" class="en">pedestrian area with partially access of special vehicles</text>
<text x="267.9" y="409.8" textLength="62.3" lengthAdjust="spacingAndGlyphs" class="uk">проїжджа частина /</text>
<text x="331.8" y="409.8" textLength="12.0" lengthAdjust="spacingAndGlyphs" class="en">road</text>
<text x="267.9" y="426.8" textLength="109.3" lengthAdjust="spacingAndGlyphs" class="uk">ділянка для проектування музею /</text>
<text x="378.9" y="426.8" textLength="56.9" lengthAdjust="spacingAndGlyphs" class="en">museum design site</text>
<text x="267.9" y="443.6" textLength="102.3" lengthAdjust="spacingAndGlyphs" class="uk">відсутність доступу до ділянки /</text>
<text x="372.1" y="443.6" textLength="57.6" lengthAdjust="spacingAndGlyphs" class="en">no access to the site</text>
<text x="472.8" y="409.8" textLength="60.2" lengthAdjust="spacingAndGlyphs" class="uk">існуюча забудова /</text>
<text x="534.6" y="409.8" textLength="50.2" lengthAdjust="spacingAndGlyphs" class="en">existing buildings</text>
<text x="472.8" y="426.8" textLength="114.8" lengthAdjust="spacingAndGlyphs" class="uk">доступ на територію для пішоходів /</text>
<text x="589.4" y="426.8" textLength="48.6" lengthAdjust="spacingAndGlyphs" class="en">access to the site</text>
</svg>
</body>
</html>
